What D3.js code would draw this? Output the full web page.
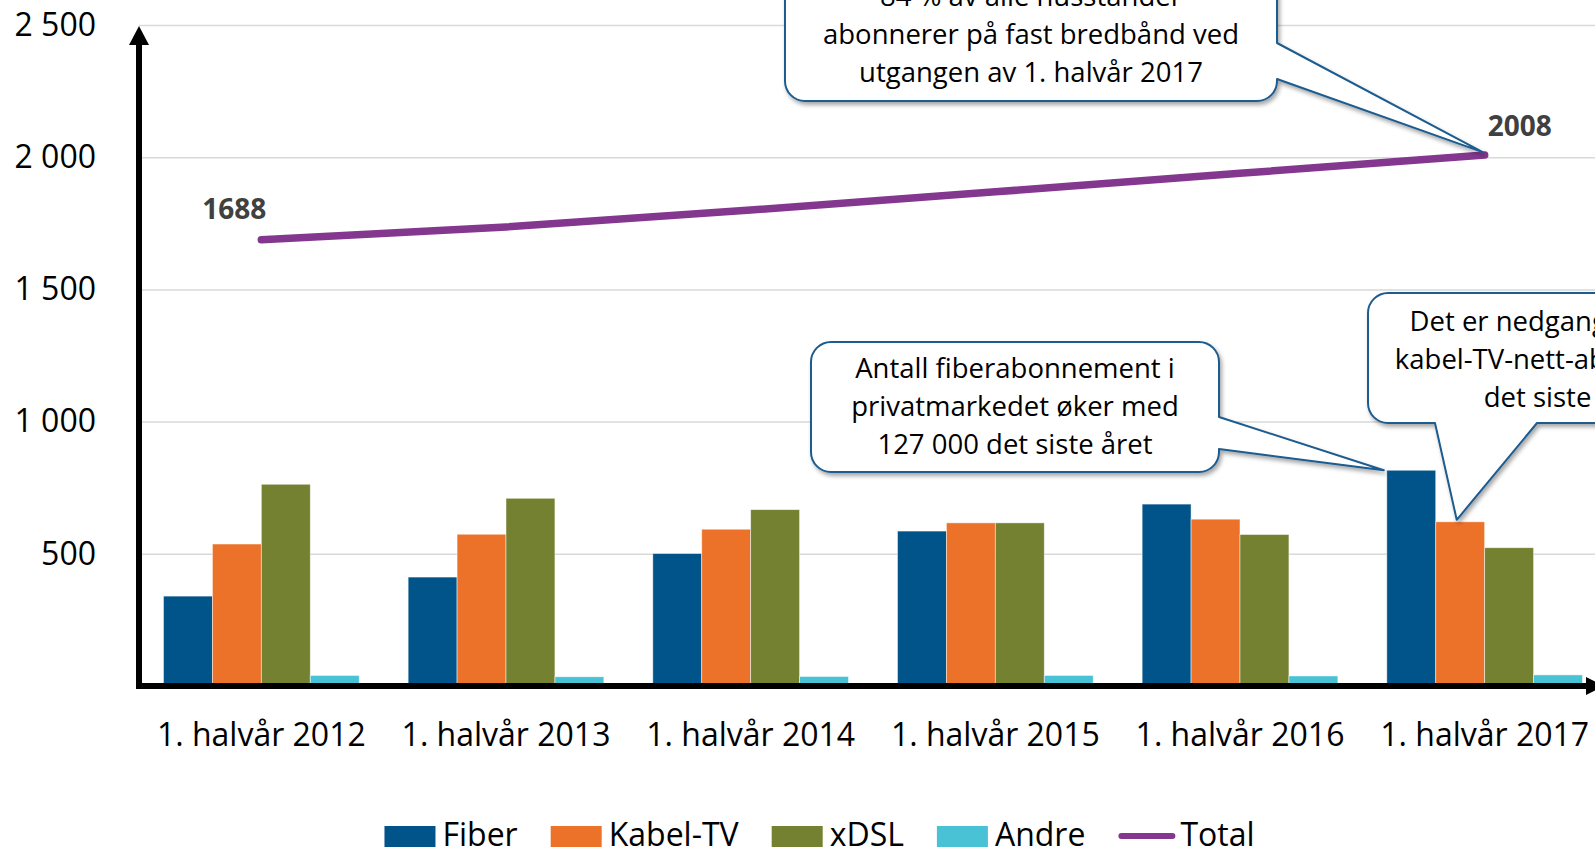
<!DOCTYPE html>
<html lang="no">
  <head>
    <meta charset="utf-8">
    <title>Fast bredbånd i privatmarkedet</title>
    <script src="https://d3js.org/d3.v7.min.js"></script>
    <style>
      html, body {
        margin: 0;
        padding: 0;
        background: #fff;
      }
      svg {
        display: block;
        font-family: "Open Sans", sans-serif;
      }
      .grid line {
        stroke: #d9d9d9;
        stroke-width: 1.5;
      }
      .grid .domain, .yaxis .domain, .xaxis .domain {
        display: none;
      }
      .tick text {
        fill: #000;
        font-size: 32px;
        font-family: "Open Sans", sans-serif;
      }
      .label {
        font-weight: bold;
        font-size: 28px;
        fill: #404040;
        text-anchor: middle;
      }
      .callout path {
        fill: #fff;
        stroke: #1d5b8e;
        stroke-width: 2;
        stroke-linejoin: round;
      }
      .callout text {
        font-size: 27.5px;
        fill: #000;
        text-anchor: middle;
      }
      .legend text {
        font-size: 32px;
        fill: #000;
      }
    </style>
  </head>
  <body>
    <div id="chart"></div>
    <script>
      // verdier i tusen abonnement, lest av figuren
      var categories = ["1. halvår 2012", "1. halvår 2013", "1. halvår 2014",
                        "1. halvår 2015", "1. halvår 2016", "1. halvår 2017"];
      var series = ["Fiber", "Kabel-TV", "xDSL", "Andre"];
      var fiber = [340, 412, 501, 586, 688, 816];
      var kabel = [537, 574, 593, 617, 631, 621];
      var xdsl  = [763, 710, 667, 617, 573, 523];
      var andre = [40, 35, 36, 40, 38, 42];
      var total = [1688, 1736, 1800, 1869, 1939, 2008];
      var yTicks = [500, 1000, 1500, 2000, 2500];
      var colors = ["#01548a", "#ec7229", "#738130", "#4ac2d5"];
      var totalColor = "#84378e";

      var width = 1595,
          height = 849,
          left = 139,
          bottom = 686;

      var values = [fiber, kabel, xdsl, andre];

      var svg = d3.select("#chart").append("svg")
          .attr("width", width)
          .attr("height", height);

      var defs = svg.append("defs");
      defs.append("filter")
          .attr("id", "shadow")
          .attr("x", "-10%").attr("y", "-10%")
          .attr("width", "130%").attr("height", "140%")
        .append("feDropShadow")
          .attr("dx", 2).attr("dy", 3)
          .attr("stdDeviation", 2)
          .attr("flood-color", "#000")
          .attr("flood-opacity", 0.35);

      var x = d3.scaleBand()
          .domain(categories)
          .range([left, 1607])
          .paddingInner(0.2)
          .paddingOuter(0.1);

      var xs = d3.scaleBand()
          .domain(series)
          .range([0, x.bandwidth()]);

      var y = d3.scaleLinear()
          .domain([0, 2500])
          .range([bottom, 25]);

      function xc(i) { return x(categories[i]) + x.bandwidth() / 2; }

      // rutenett
      svg.append("g")
          .attr("class", "grid")
          .attr("transform", "translate(" + left + ",0)")
          .call(d3.axisLeft(y).tickValues(yTicks).tickSize(-(width - left)).tickFormat(""));

      // y-akse tekster
      svg.append("g")
          .attr("class", "yaxis")
          .attr("transform", "translate(96,0)")
          .call(d3.axisLeft(y).tickValues(yTicks).tickSize(0).tickPadding(0)
            .tickFormat(function(d) { return d3.format(",")(d).replace(",", "\u00a0"); }));

      // stolper
      var groups = svg.append("g").selectAll("g")
          .data(categories)
          .enter().append("g")
          .attr("transform", function(d) { return "translate(" + x(d) + ",0)"; });

      groups.selectAll("rect")
          .data(function(d, i) {
            return series.map(function(s, j) { return {s: s, j: j, v: values[j][i]}; });
          })
          .enter().append("rect")
          .attr("x", function(d) { return xs(d.s); })
          .attr("y", function(d) { return y(d.v); })
          .attr("width", xs.bandwidth())
          .attr("height", function(d) { return bottom - y(d.v); })
          .attr("fill", function(d) { return colors[d.j]; })
          .attr("stroke", "rgba(255,255,255,0.6)")
          .attr("stroke-width", 0.8);

      // akser
      svg.append("line")
          .attr("x1", left).attr("x2", left)
          .attr("y1", bottom + 3).attr("y2", 40)
          .attr("stroke", "#000").attr("stroke-width", 6);
      svg.append("path")
          .attr("d", "M" + (left - 10) + ",45L" + left + ",26L" + (left + 10) + ",45Z")
          .attr("fill", "#000");
      svg.append("line")
          .attr("x1", left - 3).attr("x2", 1590)
          .attr("y1", bottom).attr("y2", bottom)
          .attr("stroke", "#000").attr("stroke-width", 6);
      svg.append("path")
          .attr("d", "M1586," + (bottom - 9) + "L1604," + bottom + "L1586," + (bottom + 9) + "Z")
          .attr("fill", "#000");

      svg.append("g")
          .attr("class", "xaxis")
          .attr("transform", "translate(0," + bottom + ")")
          .call(d3.axisBottom(x).tickSize(0).tickPadding(37));

      // total-linje
      var line = d3.line()
          .x(function(d, i) { return xc(i); })
          .y(function(d) { return y(d); });

      svg.append("path")
          .datum(total)
          .attr("d", line)
          .attr("fill", "none")
          .attr("stroke", totalColor)
          .attr("stroke-width", 7.5)
          .attr("stroke-linecap", "round");

      svg.append("text").attr("class", "label")
          .attr("x", xc(0) - 27).attr("y", y(total[0]) - 21)
          .text(total[0]);
      svg.append("text").attr("class", "label")
          .attr("x", xc(5) + 35).attr("y", y(total[5]) - 19)
          .text(total[5]);

      // snakkebobler
      function calloutPath(x0, y0, x1, y1, r, side, a, b, tip) {
        var p = "M" + (x0 + r) + "," + y0 + "H" + (x1 - r) +
                "A" + r + "," + r + " 0 0 1 " + x1 + "," + (y0 + r);
        if (side == "right") p += "V" + a + "L" + tip[0] + "," + tip[1] + "L" + x1 + "," + b;
        p += "V" + (y1 - r) + "A" + r + "," + r + " 0 0 1 " + (x1 - r) + "," + y1;
        if (side == "bottom") p += "H" + b + "L" + tip[0] + "," + tip[1] + "L" + a + "," + y1;
        p += "H" + (x0 + r) + "A" + r + "," + r + " 0 0 1 " + x0 + "," + (y1 - r) +
             "V" + (y0 + r) + "A" + r + "," + r + " 0 0 1 " + (x0 + r) + "," + y0 + "Z";
        return p;
      }

      var last = categories[5];
      var callouts = [
        {box: [785, -60, 1277, 101], side: "right", a: 43, b: 79,
         tip: [xc(5) - 2, y(total[5]) - 3], cx: 1031, base: 6,
         lines: ["84 % av alle husstander", "abonnerer på fast bredbånd ved", "utgangen av 1. halvår 2017"]},
        {box: [811, 342, 1219, 472], side: "right", a: 417, b: 449,
         tip: [x(last) - 3, y(fiber[5])], cx: 1015, base: 378,
         lines: ["Antall fiberabonnement i", "privatmarkedet øker med", "127 000 det siste året"]},
        {box: [1368, 293, 1790, 423], side: "bottom", a: 1435, b: 1537,
         tip: [x(last) + xs("Kabel-TV") + 21, y(kabel[5]) - 2], cx: 1567, base: 331,
         lines: ["Det er nedgang i antallet", "kabel-TV-nett-abonnement", "det siste året"]}
      ];

      var co = svg.selectAll(".callout")
          .data(callouts)
          .enter().append("g")
          .attr("class", "callout");

      co.append("path")
          .attr("filter", "url(#shadow)")
          .attr("d", function(d) {
            return calloutPath(d.box[0], d.box[1], d.box[2], d.box[3], 20, d.side, d.a, d.b, d.tip);
          });

      co.each(function(d) {
        var g = d3.select(this);
        d.lines.forEach(function(t, i) {
          g.append("text")
            .attr("x", d.cx)
            .attr("y", d.base + i * 38)
            .text(t);
        });
      });

      // tegnforklaring
      var legendItems = series.concat(["Total"]);
      var legend = svg.append("g").attr("class", "legend");
      var lx = 0;
      legendItems.forEach(function(name, i) {
        var g = legend.append("g").attr("transform", "translate(" + lx + ",0)");
        if (i < 4) {
          g.append("rect")
            .attr("x", 0).attr("y", 826)
            .attr("width", 51).attr("height", 21)
            .attr("fill", colors[i]);
        } else {
          g.append("line")
            .attr("x1", 3).attr("x2", 54)
            .attr("y1", 836).attr("y2", 836)
            .attr("stroke", totalColor)
            .attr("stroke-width", 6)
            .attr("stroke-linecap", "round");
        }
        var t = g.append("text")
            .attr("x", i < 4 ? 58 : 62)
            .attr("y", 846)
            .text(name);
        lx += (i < 4 ? 58 : 62) + t.node().getComputedTextLength() + 33;
      });
      var lw = lx - 33;
      legend.attr("transform", "translate(" + (819.5 - lw / 2) + ",0)");
    </script>
  </body>
</html>
